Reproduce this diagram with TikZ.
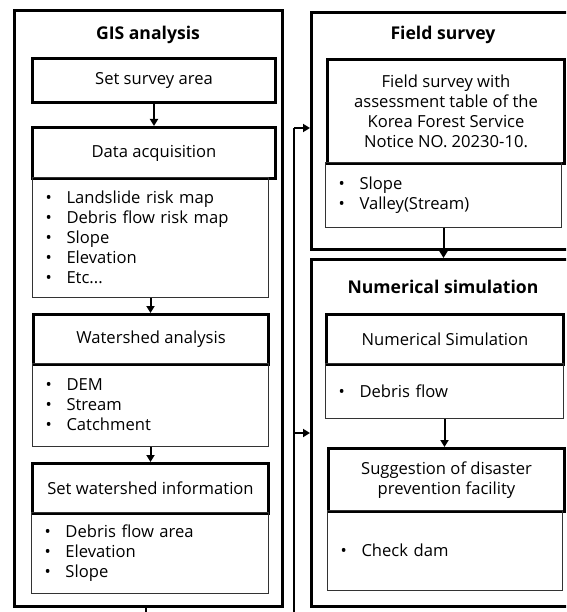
\documentclass[tikz,border=0pt]{standalone}
\usepackage{fontspec}
\setmainfont{Open Sans}
\usetikzlibrary{arrows.meta}

% one list entry: bullet, then the item text
\newcommand\itm[1]{\makebox[21pt][l]{\textbullet}#1}

\begin{document}
\begin{tikzpicture}[x=1pt,y=-1pt,
  frame/.style={draw, line width=3pt, inner sep=0pt, anchor=north west},
  head/.style={draw, line width=3pt, inner sep=0pt, anchor=north west,
    align=center, font=\fontsize{16.6}{20}\selectfont},
  listbox/.style={draw=black!80, line width=1pt, inner xsep=13pt, inner ysep=0pt,
    anchor=north west, align=left, font=\fontsize{16.6}{20}\selectfont},
  title/.style={font=\fontsize{17.6}{20}\selectfont\bfseries},
  conn/.style={line width=2pt},
  arr/.style={line width=2pt, -{Triangle[length=7pt,width=8pt]}},
]
\useasboundingbox (0,0) rectangle (566,612);
\clip (0,0) rectangle (566,612);

% ---- GIS analysis column ----
\node[frame, minimum width=268pt, minimum height=596pt] (gis) at (13,9) {};
\node[title] (gist) at (148,35) {GIS analysis};

\node[head, minimum width=243pt, minimum height=44pt] (ssa) at (31,57) {Set survey area};
\node[head, minimum width=243pt, minimum height=51pt] (da) at (31,126) {Data acquisition};
\node[listbox, text width=210pt, minimum height=120pt] (dal) at (32,177)
  {\itm{Landslide risk map}\\ \itm{Debris flow risk map}\\ \itm{Slope}\\ \itm{Elevation}\\ \itm{Etc...}};

\node[head, minimum width=235pt, minimum height=50pt] (wa) at (32,313) {Watershed analysis};
\node[listbox, text width=210pt, minimum height=83pt] (wal) at (32,363)
  {\itm{DEM}\\ \itm{Stream}\\ \itm{Catchment}};

\node[head, minimum width=236pt, minimum height=50pt] (swi) at (31,462) {Set watershed information};
\node[listbox, text width=211pt, minimum height=81pt] (swil) at (31,512)
  {\itm{Debris flow area}\\ \itm{Elevation}\\ \itm{Slope}};

\draw[arr] (ssa.south) -- (da.north);
\draw[arr] (dal.south) -- (dal.south |- wa.north);
\draw[arr] (wal.south) -- (wal.south |- swi.north);

\coordinate (gisout) at (146,616);
\draw[conn] (gis.south -| gisout) -- (gisout);

% ---- Field survey ----
\node[frame, minimum width=262pt, minimum height=236.5pt] (field) at (310,11.5) {};
\node[title] (fieldt) at (443,35) {Field survey};
\node[head, minimum width=237pt, minimum height=104pt] (fs) at (326,58)
  {Field survey with\\ assessment table of the\\ Korea Forest Service\\ Notice NO. 20230-10.};
\node[listbox, text width=210pt, minimum height=65pt] (fsl) at (325,162)
  {\itm{Slope}\\ \itm{Valley(Stream)}};

% ---- Numerical simulation ----
\node[frame, minimum width=262pt, minimum height=347pt] (num) at (310,258) {};
\node[title] (numt) at (443,287) {Numerical simulation};
\node[head, minimum width=237pt, minimum height=50pt] (ns) at (325,313) {Numerical Simulation};
\node[listbox, text width=212pt, minimum height=55pt] (nsl) at (325,363)
  {\itm{Debris flow}};
\node[head, minimum width=236pt, minimum height=63pt] (sug) at (327,447)
  {Suggestion of disaster\\ prevention facility};
\node[listbox, text width=209pt, minimum height=80pt] (sugl) at (327,510)
  {\itm{Check dam}};

\draw[arr] (fsl.south) -- (fsl.south |- num.north);
\draw[arr] (nsl.south) -- (nsl.south |- sug.north);

% ---- line feeding both right-hand blocks ----
\coordinate (fbin) at (294,616);
\coordinate (fbtop) at (294,128);
\coordinate (fbmid) at (294,433);
\draw[line width=2.5pt] (fbin) -- (fbtop);
\draw[arr] (fbtop) -- (fbtop -| field.west);
\draw[arr] (fbmid) -- (fbmid -| num.west);
\end{tikzpicture}
\end{document}
